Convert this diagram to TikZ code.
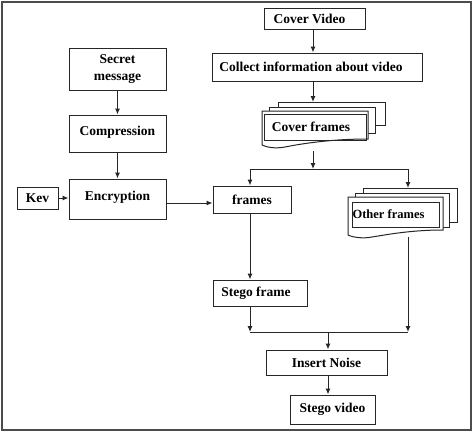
\documentclass[tikz,border=0pt]{standalone}
\usepackage{fontspec}
\setmainfont{Liberation Serif}
\usetikzlibrary{arrows.meta}
\begin{document}
\begin{tikzpicture}[x=1pt,y=-1pt,
  box/.style={draw=black!85,line width=1pt,rectangle,inner sep=0pt,font=\fontsize{13.5}{17}\selectfont\bfseries,align=center},
  arr/.style={draw=black!85,line width=1pt,-{Latex[length=6pt,width=5pt]}},
  ln/.style={draw=black!85,line width=1pt},
  page/.style={draw=black!85,line width=1pt,fill=white}]
\useasboundingbox (0,0) rectangle (474,434);
\draw[gray!60!black,line width=1.6pt] (2,2) rectangle (471,430);

% left column
\node[box,minimum width=97pt,minimum height=42pt] (secret) at (117.5,69) {Secret\\message};
\node[box,minimum width=97pt,minimum height=37pt] (compr) at (117.5,133.5) {\raisebox{5pt}{Compression}};
\node[box,minimum width=97pt,minimum height=40pt] (encr) at (117.5,199) {\raisebox{6pt}{Encryption}};
\node[box,minimum width=41pt,minimum height=22pt] (kev) at (37.5,198) {Kev};

% right column
\node[box,minimum width=101pt,minimum height=21pt] (cvideo) at (314.5,18.5) {\hspace*{-10pt}Cover Video};
\node[box,minimum width=210pt,minimum height=28pt] (collect) at (317,67) {\hspace*{-12pt}Collect information about video};

% cover frames multidocument
\draw[page] (278,107) -- (278,102) -- (385,102) -- (385,125) -- (375,125);
\draw[page] (269,111) -- (269,107) -- (375,107) -- (375,133) -- (368,133);
\draw[page] (262,111) -- (368,111) -- (368,139) .. controls (330,139) and (300,144) .. (285,147) .. controls (275,149) and (266,147) .. (262,145) -- cycle;
\node[box,minimum width=102pt,minimum height=26pt] (cframes) at (315,127) {\hspace*{-8pt}Cover frames};
\coordinate (cfTop) at (313,102);
\coordinate (cfBot) at (313,151);

% other frames multidocument
\draw[page] (363,193) -- (363,188) -- (457,188) -- (457,222) -- (449,222);
\draw[page] (355,197) -- (355,193) -- (449,193) -- (449,227) -- (443,227);
\draw[page] (348,197) -- (443,197) -- (443,230) .. controls (410,230) and (385,235) .. (372,237) .. controls (362,239) and (352,237) .. (348,235) -- cycle;
\node[box,minimum width=87pt,minimum height=25pt,font=\fontsize{12.5}{14}\selectfont\bfseries] (oframes) at (395.5,214.5) {\hspace*{-14pt}Other frames};
\coordinate (ofTop) at (408,188);
\coordinate (ofBot) at (408,237);

\node[box,minimum width=78pt,minimum height=27pt] (frames) at (252,199.5) {frames};
\node[box,minimum width=94pt,minimum height=26pt] (sframe) at (260,293) {\hspace*{-8pt}Stego frame};
\node[box,minimum width=121pt,minimum height=25pt] (noise) at (326.5,362.5) {Insert Noise};
\node[box,minimum width=85pt,minimum height=29pt] (svideo) at (332.5,409.5) {Stego video};

\coordinate (sL) at (250,169);
\coordinate (sR) at (408,169);
\coordinate (sM) at (313,169);
\coordinate (jL) at (250,332);
\coordinate (jR) at (408,332);
\coordinate (jM) at (328,332);

% connectors
\draw[arr] (secret.south) -- (compr.north);
\draw[arr] (compr.south) -- (encr.north);
\draw[arr] (kev.east) -- (kev.east -| encr.west);
\draw[arr] ([yshift=-4pt]encr.east) -- ([yshift=-4pt]encr.east -| frames.west);
\draw[arr] (cvideo.south -| cfTop) -- (collect.north -| cfTop);
\draw[arr] (collect.south -| cfTop) -- (cfTop);
\draw[arr] (cfBot) -- (sM);
\draw[ln] (sL) -- (sR);
\draw[arr] (sL) -- (sL |- frames.north);
\draw[arr] (sR) -- (ofTop);
\draw[arr] (sL |- frames.south) -- (sL |- sframe.north);
\draw[arr] (sL |- sframe.south) -- (jL);
\draw[arr] (ofBot) -- (jR);
\draw[ln] (jL) -- (jR);
\draw[arr] (jM) -- (jM |- noise.north);
\draw[arr] (jM |- noise.south) -- (jM |- svideo.north);
\end{tikzpicture}
\end{document}
